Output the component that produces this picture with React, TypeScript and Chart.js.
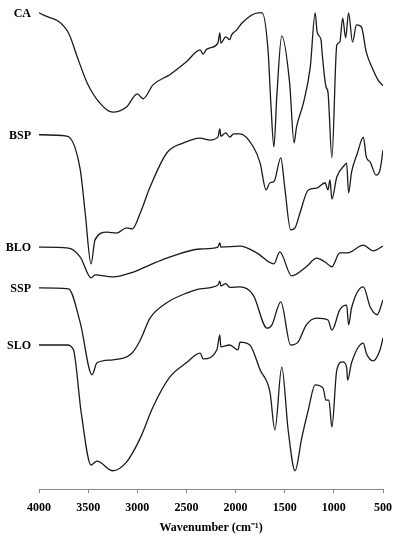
import React, { useEffect, useRef } from "react";
import { Chart, registerables } from "chart.js";

Chart.register(...registerables);

const seriesNames = ["CA", "BSP", "BLO", "SSP", "SLO"];
const xTicks = [4000, 3500, 3000, 2500, 2000, 1500, 1000, 500];
const xTitle = "Wavenumber (cm\u207B\u00B9)";

const wnCA = [4000, 3705, 3600, 3510, 3380, 3250, 3110, 3000, 2940, 2840, 2670, 2500, 2360, 2330, 2300, 2260, 2180, 2160, 2150, 2100, 2060, 2040, 1990, 1935, 1770, 1730, 1670, 1640, 1610, 1580, 1530, 1450, 1405, 1380, 1310, 1240, 1190, 1170, 1130, 1120, 1080, 1060, 1020, 970, 940, 910, 880, 850, 810, 770, 720, 670, 600, 550, 500];
const tCA = [99.2, 95.2, 89.4, 84.6, 80.4, 78.5, 79.6, 82.3, 81.3, 84.2, 86.3, 89.0, 91.5, 90.6, 91.5, 91.9, 92.9, 95.0, 92.9, 94.2, 93.6, 94.6, 95.6, 97.1, 99.2, 99.2, 91.5, 80.0, 71.3, 82.0, 94.4, 84.6, 72.1, 75.4, 80.4, 87.9, 99.2, 95.2, 93.5, 91.0, 83.8, 82.7, 69.0, 92.5, 93.1, 98.1, 94.0, 99.2, 93.1, 96.7, 96.3, 91.0, 87.3, 85.2, 84.0];

const wnBSP = [4000, 3715, 3580, 3530, 3470, 3430, 3310, 3210, 3110, 3050, 2970, 2870, 2700, 2530, 2360, 2260, 2180, 2160, 2150, 2100, 2060, 2020, 1955, 1820, 1750, 1690, 1650, 1610, 1540, 1500, 1440, 1395, 1345, 1260, 1175, 1090, 1060, 1040, 1020, 970, 890, 870, 850, 820, 760, 700, 670, 630, 570, 530, 500];
const tBSP = [73.8, 73.5, 66.5, 57.5, 46.9, 51.9, 53.5, 53.3, 54.4, 54.2, 57.5, 62.9, 70.0, 72.1, 73.1, 72.7, 73.3, 75.0, 73.5, 74.2, 73.3, 74.0, 74.0, 71.3, 67.9, 62.3, 63.8, 64.0, 69.0, 62.9, 54.0, 54.4, 57.5, 62.3, 62.7, 63.8, 62.3, 64.4, 60.4, 65.0, 67.5, 67.9, 61.7, 66.0, 70.0, 73.3, 69.2, 68.1, 65.4, 66.5, 70.6];

const wnBLO = [4000, 3700, 3580, 3470, 3430, 3250, 3040, 2870, 2700, 2360, 2180, 2160, 2150, 1955, 1785, 1610, 1550, 1430, 1280, 1175, 1090, 1020, 940, 860, 700, 600, 500];
const tBLO = [50.4, 50.2, 48.3, 44.0, 44.6, 44.2, 45.2, 46.7, 48.1, 50.0, 50.4, 51.3, 50.4, 50.6, 49.2, 46.9, 49.4, 44.4, 46.3, 48.1, 47.3, 46.3, 49.2, 49.2, 50.8, 49.6, 50.6];

const wnSSP = [4000, 3700, 3580, 3460, 3410, 3250, 3055, 2970, 2870, 2700, 2500, 2360, 2180, 2160, 2150, 2100, 2060, 1955, 1820, 1680, 1630, 1540, 1440, 1365, 1280, 1175, 1060, 1020, 940, 870, 850, 820, 700, 630, 560, 500];
const tSSP = [41.9, 41.7, 34.6, 23.8, 26.3, 26.9, 28.3, 31.0, 35.6, 38.8, 40.8, 41.7, 42.5, 43.3, 42.3, 42.8, 42.0, 42.1, 40.4, 33.5, 34.2, 39.0, 30.0, 30.6, 34.2, 35.6, 35.2, 33.1, 37.3, 38.3, 34.2, 37.7, 42.1, 37.9, 36.3, 39.4];

const wnSLO = [4000, 3715, 3650, 3570, 3470, 3410, 3250, 3110, 2970, 2840, 2670, 2500, 2360, 2330, 2190, 2160, 2150, 2060, 1975, 1955, 1855, 1750, 1650, 1600, 1530, 1465, 1395, 1325, 1260, 1190, 1110, 1080, 1050, 1020, 970, 910, 870, 860, 820, 700, 670, 600, 530, 500];
const tSLO = [30.0, 30.0, 29.0, 15.8, 5.0, 5.8, 3.8, 5.6, 10.6, 17.1, 23.3, 26.3, 28.3, 27.1, 29.0, 32.1, 29.6, 30.0, 29.0, 30.6, 30.0, 24.8, 20.2, 12.3, 25.4, 12.3, 3.8, 10.8, 16.5, 21.7, 21.0, 18.5, 18.5, 12.9, 24.8, 26.5, 25.4, 22.7, 26.3, 30.4, 28.3, 26.7, 29.0, 31.5];

const wavenumbers = [wnCA, wnBSP, wnBLO, wnSSP, wnSLO];
const transmittance = [tCA, tBSP, tBLO, tSSP, tSLO];

const FONT = "'Liberation Serif', 'Times New Roman', serif";

const labelPlugin = {
  id: "seriesLabels",
  afterDatasetsDraw(chart: any) {
    const ctx = chart.ctx;
    ctx.save();
    ctx.font = `bold 12px ${FONT}`;
    ctx.fillStyle = "#000";
    ctx.textAlign = "right";
    ctx.textBaseline = "middle";
    chart.data.datasets.forEach((ds: any, i: number) => {
      const meta = chart.getDatasetMeta(i);
      const p = meta.data[0];
      if (!p) return;
      ctx.fillText(ds.label, p.x - 8, p.y + 1);
    });
    ctx.restore();
  },
};

export default function App() {
  const ref = useRef<HTMLCanvasElement>(null);
  useEffect(() => {
    document.body.style.margin = "0";
    const canvas = ref.current!;
    const chart = new Chart(canvas, {
      type: "line",
      data: {
        datasets: seriesNames.map((name, i) => ({
          label: name,
          data: wavenumbers[i].map((x, j) => ({ x, y: transmittance[i][j] })),
          borderColor: "#1a1a1a",
          borderWidth: 1.3,
          pointRadius: 0,
          fill: false,
          cubicInterpolationMode: "monotone" as const,
        })),
      },
      options: {
        responsive: false,
        animation: false,
        events: [],
        layout: { padding: { left: 39, right: 17, top: 9, bottom: 0 } },
        plugins: { legend: { display: false }, tooltip: { enabled: false } },
        scales: {
          x: {
            type: "linear",
            reverse: true,
            min: 500,
            max: 4000,
            afterBuildTicks: (axis: any) => {
              axis.ticks = xTicks.map((v) => ({ value: v }));
            },
            afterFit: (axis: any) => {
              axis.height = 61;
            },
            grid: { drawOnChartArea: false, drawTicks: true, tickLength: 4, color: "#888" },
            border: { display: true, color: "#888", width: 1 },
            ticks: {
              color: "#000",
              padding: 8,
              maxRotation: 0,
              font: { family: FONT, size: 12, weight: "bold" },
              callback: (v: any) => String(v),
            },
            title: {
              display: true,
              text: xTitle,
              color: "#000",
              padding: { top: 4, bottom: 15 },
              font: { family: FONT, size: 12, weight: "bold" },
            },
          },
          y: { display: false, min: 0, max: 100 },
        },
      },
      plugins: [labelPlugin],
    } as any);
    return () => chart.destroy();
  }, []);
  return (
    <div style={{ width: 400, height: 550, background: "#fff" }}>
      <canvas ref={ref} width={400} height={550} />
    </div>
  );
}
